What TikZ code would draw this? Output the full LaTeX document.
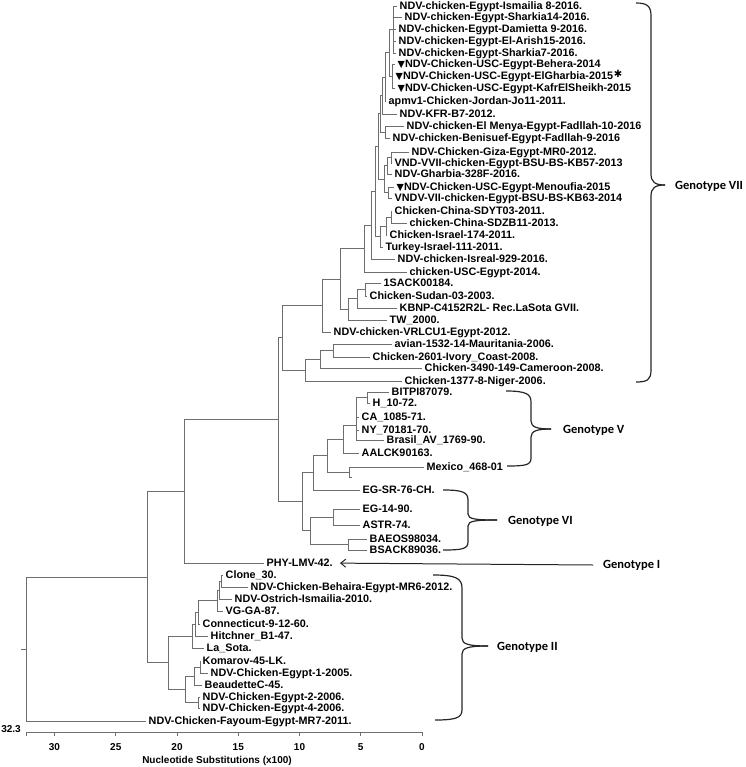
\documentclass[tikz,border=0pt]{standalone}
\usepackage{fontspec}
\setmainfont{Liberation Sans}
\newfontfamily\gfont{Carlito}
\newfontfamily\symfont{DejaVu Sans}
\usetikzlibrary{arrows.meta}
\definecolor{treegray}{RGB}{110,110,110}
\tikzset{
  br/.style={draw=treegray, line width=0.7pt},
  lab/.style={anchor=base west, inner sep=0pt, font=\bfseries\fontsize{10.8}{12}\selectfont},
  gen/.style={anchor=west, inner sep=0pt, font=\gfont\bfseries\fontsize{12.5}{14}\selectfont},
  bracepath/.style={draw=black!85, line width=1.2pt},
  ticklab/.style={inner sep=0pt, font=\bfseries\fontsize{10}{12}\selectfont},
}
\newcommand\tri{{\symfont\fontsize{9.5}{9.5}\selectfont ▼}}
\newcommand\lf[4]{\coordinate (#1) at (#2,#3); \node[lab] (#1-t) at ([xshift=2.5pt,yshift=-3.9pt]#1) {#4};}
\newcommand\inn[3]{\coordinate (#1) at (#2,#3);}
\newcommand\tedge[2]{\draw[br] (#1) |- (#2);}
\begin{document}
\begin{tikzpicture}[x=1pt,y=-1pt]
\useasboundingbox (0,0) rectangle (745,767);
% ---------------- leaves
\lf{l1}{397}{6}{NDV-chicken-Egypt-Ismailia 8-2016.}
\lf{l2}{402}{17}{NDV-chicken-Egypt-Sharkia14-2016.}
\lf{l3}{396}{29}{NDV-chicken-Egypt-Damietta 9-2016.}
\lf{l4}{396}{41}{NDV-chicken-Egypt-El-Arish15-2016.}
\lf{l5}{396}{53}{NDV-chicken-Egypt-Sharkia7-2016.}
\lf{l6}{395}{64}{\tri NDV-Chicken-USC-Egypt-Behera-2014}
\lf{l7}{393}{76}{\tri NDV-Chicken-USC-Egypt-ElGharbia-2015}
\lf{l8}{395}{88}{\tri NDV-Chicken-USC-Egypt-KafrElSheikh-2015}
\lf{l9}{386}{101}{apmv1-Chicken-Jordan-Jo11-2011.}
\lf{l10}{397}{114}{NDV-KFR-B7-2012.}
\lf{l11}{404}{126}{NDV-chicken-El Menya-Egypt-Fadllah-10-2016}
\lf{l12}{390}{138}{NDV-chicken-Benisuef-Egypt-Fadllah-9-2016}
\lf{l13}{409}{152}{NDV-Chicken-Giza-Egypt-MR0-2012.}
\lf{l14}{392}{163}{VND-VVII-chicken-Egypt-BSU-BS-KB57-2013}
\lf{l15}{392}{174}{NDV-Gharbia-328F-2016.}
\lf{l16}{394}{187}{\tri NDV-Chicken-USC-Egypt-Menoufia-2015}
\lf{l17}{392}{198}{VNDV-VII-chicken-Egypt-BSU-BS-KB63-2014}
\lf{l18}{392}{211}{Chicken-China-SDYT03-2011.}
\lf{l19}{407}{223}{chicken-China-SDZB11-2013.}
\lf{l20}{387}{235}{Chicken-Israel-174-2011.}
\lf{l21}{383}{247}{Turkey-Israel-111-2011.}
\lf{l22}{395}{259}{NDV-chicken-Isreal-929-2016.}
\lf{l23}{407}{272}{chicken-USC-Egypt-2014.}
\lf{l24}{381}{283}{1SACK00184.}
\lf{l25}{367}{296}{Chicken-Sudan-03-2003.}
\lf{l26}{397}{308}{KBNP-C4152R2L- Rec.LaSota GVII.}
\lf{l27}{387}{320}{TW\_2000.}
\lf{l28}{331}{332}{NDV-chicken-VRLCU1-Egypt-2012.}
\lf{l29}{392}{344}{avian-1532-14-Mauritania-2006.}
\lf{l30}{370}{357}{Chicken-2601-Ivory\_Coast-2008.}
\lf{l31}{422}{368}{Chicken-3490-149-Cameroon-2008.}
\lf{l32}{402}{381}{Chicken-1377-8-Niger-2006.}
\lf{l33}{389}{392}{BITPI87079.}
\lf{l34}{370}{403}{H\_10-72.}
\lf{l35}{359}{417}{CA\_1085-71.}
\lf{l36}{359}{430}{NY\_70181-70.}
\lf{l37}{384}{440}{Brasil\_AV\_1769-90.}
\lf{l38}{359}{453}{AALCK90163.}
\lf{l39}{424}{467}{Mexico\_468-01}
\coordinate (l39b) at (352,477);
\lf{l40}{360}{490}{EG-SR-76-CH.}
\lf{l41}{360}{509}{EG-14-90.}
\lf{l42}{360}{525}{ASTR-74.}
\lf{l43}{367}{539}{BAEOS98034.}
\lf{l44}{367}{550}{BSACK89036.}
\lf{l45}{264}{563}{PHY-LMV-42.}
\lf{l46}{223}{575}{Clone\_30.}
\lf{l47}{248}{587}{NDV-Chicken-Behaira-Egypt-MR6-2012.}
\lf{l48}{232}{599}{NDV-Ostrich-Ismailia-2010.}
\lf{l49}{223}{611}{VG-GA-87.}
\lf{l50}{200}{624}{Connecticut-9-12-60.}
\lf{l51}{208}{636}{Hitchner\_B1-47.}
\lf{l52}{204}{648}{La\_Sota.}
\lf{l53}{200}{661}{Komarov-45-LK.}
\lf{l54}{208}{673}{NDV-Chicken-Egypt-1-2005.}
\lf{l55}{202}{685}{BeaudetteC-45.}
\lf{l56}{200}{697}{NDV-Chicken-Egypt-2-2006.}
\lf{l57}{200}{708}{NDV-Chicken-Egypt-4-2006.}
\lf{l58}{146}{721}{NDV-Chicken-Fayoum-Egypt-MR7-2011.}
% ---------------- internal nodes
\inn{q1}{393}{29.5}
\inn{q2}{392}{76}
\inn{q}{389}{52.75}
\inn{r}{385}{77}
\inn{s}{382}{95.5}
\inn{t}{385}{132}
\inn{u}{380}{113.75}
\inn{v1}{391}{157.5}
\inn{v2}{387}{165.75}
\inn{v3}{388}{192.5}
\inn{vv}{384}{179.1}
\inn{w}{378}{146.4}
\inn{n1}{391}{217}
\inn{n2}{386}{226}
\inn{nn}{380}{236.5}
\inn{m}{375}{191.45}
\inn{ll}{371}{225.2}
\inn{ii}{364}{248.6}
\inn{k1}{365}{289.5}
\inn{k2}{357}{298.75}
\inn{jj}{348}{309.4}
\inn{hh}{340}{279}
\inn{gg}{322}{305.5}
\inn{f1}{333}{350.5}
\inn{ff}{320}{359.25}
\inn{ee}{305}{370.1}
\inn{dd}{282}{337.8}
\inn{va}{367}{397.5}
\inn{vb}{356}{425}
\inn{vc}{343}{439}
\inn{zz}{349}{472}
\inn{vd}{327}{455.5}
\inn{vg}{313}{472.75}
\inn{via}{333}{517}
\inn{vib}{348}{544.5}
\inn{vi}{310}{530.75}
\inn{xx}{302}{501.75}
\inn{cc}{278}{419.8}
\inn{bb}{184}{491.4}
\inn{p1a}{221}{581}
\inn{p1b}{219}{590}
\inn{p1}{217}{600.5}
\inn{p2}{198}{612.25}
\inn{p3}{195}{624.1}
\inn{g2a}{192}{636}
\inn{kk1}{200}{667}
\inn{kk2}{194}{676}
\inn{e24}{198}{702.5}
\inn{g2b}{185}{689.25}
\inn{g2}{168}{662.6}
\inn{aa}{147}{577}
\inn{root}{26}{649}
\coordinate (rootstub) at (21,649);
% ---------------- branches
\foreach \c in {l1,l2,l3,l4,l5} {\tedge{q1}{\c}}
\foreach \c in {l6,l7,l8} {\tedge{q2}{\c}}
\tedge{q}{q1}\tedge{q}{q2}
\tedge{r}{q}\tedge{r}{l9}
\tedge{s}{r}\tedge{s}{l10}
\tedge{t}{l11}\tedge{t}{l12}
\tedge{u}{s}\tedge{u}{t}
\tedge{v1}{l13}\tedge{v1}{l14}
\tedge{v2}{v1}\tedge{v2}{l15}
\tedge{v3}{l16}\tedge{v3}{l17}
\tedge{vv}{v2}\tedge{vv}{v3}
\tedge{w}{u}\tedge{w}{vv}
\tedge{n1}{l18}\tedge{n1}{l19}
\tedge{n2}{n1}\tedge{n2}{l20}
\tedge{nn}{n2}\tedge{nn}{l21}
\tedge{m}{w}\tedge{m}{nn}
\tedge{ll}{m}\tedge{ll}{l22}
\tedge{ii}{ll}\tedge{ii}{l23}
\tedge{k1}{l24}\tedge{k1}{l25}
\tedge{k2}{k1}\tedge{k2}{l26}
\tedge{jj}{k2}\tedge{jj}{l27}
\tedge{hh}{ii}\tedge{hh}{jj}
\tedge{gg}{hh}\tedge{gg}{l28}
\tedge{f1}{l29}\tedge{f1}{l30}
\tedge{ff}{f1}\tedge{ff}{l31}
\tedge{ee}{ff}\tedge{ee}{l32}
\tedge{dd}{gg}\tedge{dd}{ee}
\tedge{va}{l33}\tedge{va}{l34}
\foreach \c in {va,l35,l36,l37} {\tedge{vb}{\c}}
\tedge{vc}{vb}\tedge{vc}{l38}
\tedge{zz}{l39}\tedge{zz}{l39b}
\tedge{vd}{vc}\tedge{vd}{zz}
\tedge{vg}{vd}\tedge{vg}{l40}
\tedge{via}{l41}\tedge{via}{l42}
\tedge{vib}{l43}\tedge{vib}{l44}
\tedge{vi}{via}\tedge{vi}{vib}
\tedge{xx}{vg}\tedge{xx}{vi}
\tedge{cc}{dd}\tedge{cc}{xx}
\tedge{bb}{cc}\tedge{bb}{l45}
\tedge{p1a}{l46}\tedge{p1a}{l47}
\tedge{p1b}{p1a}\tedge{p1b}{l48}
\tedge{p1}{p1b}\tedge{p1}{l49}
\tedge{p2}{p1}\tedge{p2}{l50}
\tedge{p3}{p2}\tedge{p3}{l51}
\tedge{g2a}{p3}\tedge{g2a}{l52}
\tedge{kk1}{l53}\tedge{kk1}{l54}
\tedge{kk2}{kk1}\tedge{kk2}{l55}
\tedge{e24}{l56}\tedge{e24}{l57}
\tedge{g2b}{kk2}\tedge{g2b}{e24}
\tedge{g2}{g2a}\tedge{g2}{g2b}
\tedge{aa}{bb}\tedge{aa}{g2}
\tedge{root}{aa}\tedge{root}{l58}
\draw[br] (root) -- (rootstub);
% ---------------- asterisk
\node[anchor=west, inner sep=0pt, font=\symfont\bfseries\fontsize{10}{10}\selectfont] (ast) at ([xshift=0.5pt,yshift=3.5pt]l7-t.east) {✱};
% ---------------- scale axis
\coordinate (axl) at (26,732);
\coordinate (axr) at (422,732);
\draw[br] (axl) -- (axr);
\draw[br] (axl) -- ++(0,4);
\foreach \v in {0,5,...,30} {
  \draw[br] (422-12.25*\v,732) -- ++(0,4);
  \node[ticklab] (tk\v) at (422-12.25*\v,747) {\v};
}
\node[ticklab] (scalelab) at (11,729) {32.3};
\node[ticklab] (axtitle) at (217,761) {Nucleotide Substitutions (x100)};
% ---------------- braces and genotype labels
\draw[bracepath] (636,3) .. controls (647,3) and (651,6) .. (651,16) -- (651,174) .. controls (651,182) and (655,185) .. (665,185);
\draw[bracepath] (665,185) .. controls (655,185) and (651,188) .. (651,196) -- (651,370) .. controls (651,380) and (647,382) .. (636,382);
\node[gen] (g7) at (675,186) {Genotype VII};
\draw[bracepath] (506,391) .. controls (526,391) and (531,394) .. (531,402) -- (531,421) .. controls (531,427) and (537,429) .. (551,429);
\draw[bracepath] (551,429) .. controls (537,429) and (531,431) .. (531,437) -- (531,458) .. controls (531,465) and (526,466) .. (507,466);
\node[gen] (g5) at (563,430) {Genotype V};
\draw[bracepath] (443,490) .. controls (462,490) and (468,492) .. (468,500) -- (468,514) .. controls (468,519) and (475,520) .. (497,520);
\draw[bracepath] (497,520) .. controls (475,520) and (468,521) .. (468,526) -- (468,542) .. controls (468,549) and (462,550) .. (443,550);
\node[gen] (g6) at (508,521) {Genotype VI};
\draw[bracepath] (433,575) .. controls (455,575) and (462,578) .. (462,588) -- (462,638) .. controls (462,644) and (468,646) .. (488,646);
\draw[bracepath] (488,646) .. controls (468,646) and (462,648) .. (462,654) -- (462,710) .. controls (462,718) and (455,720) .. (435,720);
\node[gen] (g2lab) at (497,647) {Genotype II};
\node[gen] (g1) at (603,565) {Genotype I};
\draw[draw=black!85, line width=1pt, -{Straight Barb[length=5pt,width=8pt]}] ([xshift=-10pt]g1.west) -- ([xshift=7pt]l45-t.east);
\end{tikzpicture}
\end{document}
